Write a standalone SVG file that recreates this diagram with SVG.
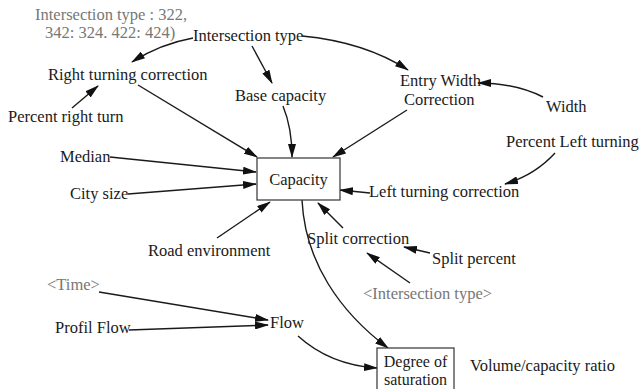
<svg xmlns="http://www.w3.org/2000/svg" width="641" height="389" viewBox="0 0 641 389">
<defs>
<marker id="ah" markerWidth="14" markerHeight="8" refX="13" refY="4" orient="auto" markerUnits="userSpaceOnUse">
<path d="M0,0 L14,4 L0,8 Z" fill="#111"/>
</marker>
</defs>
<style>
text{font-family:"Liberation Serif","Times New Roman",serif;font-size:16.5px;fill:#1a1a1a}
.g{fill:#777}
.c{fill:none;stroke:#1a1a1a;stroke-width:1.4;marker-end:url(#ah)}
.box{fill:#fff;stroke:#333;stroke-width:1.2}
.b{font-size:16px}
</style>
<rect width="641" height="389" fill="#fff"/>
<g id="connectors">
<path class="c" d="M193,38 Q160,44 132,62"/>
<path class="c" d="M252,46 L272,83"/>
<path class="c" d="M302,36 Q365,42 408,70"/>
<path class="c" d="M543,97 Q515,83 478,83"/>
<path class="c" d="M72,108 L98,86"/>
<path class="c" d="M138,85 L257,157"/>
<path class="c" d="M283,106 Q292,128 292,157"/>
<path class="c" d="M407,110 L333,157"/>
<path class="c" d="M110,157 L256,172"/>
<path class="c" d="M128,194 L256,184"/>
<path class="c" d="M217,238 L270,202"/>
<path class="c" d="M370,193 L340,190"/>
<path class="c" d="M555,153 Q535,175 505,184"/>
<path class="c" d="M343,228 L318,203"/>
<path class="c" d="M430,253 L404,247"/>
<path class="c" d="M410,283 L367,253"/>
<path class="c" d="M302,200 C305,262 340,312 388,348"/>
<path class="c" d="M99,292 L268,320"/>
<path class="c" d="M129,330 L268,325"/>
<path class="c" d="M298,336 Q330,365 377,368"/>
</g>
<g id="note"><text class="g" x="35" y="20">Intersection type : 322,</text><text class="g" x="45" y="38">342: 324. 422: 424)</text></g>
<g id="intersection-type"><text x="193" y="41">Intersection type</text></g>
<g id="right-turning-correction"><text x="48" y="80">Right turning correction</text></g>
<g id="base-capacity"><text x="235" y="101">Base capacity</text></g>
<g id="entry-width-correction"><text x="400" y="86">Entry Width</text><text x="404" y="105">Correction</text></g>
<g id="width"><text x="546" y="112">Width</text></g>
<g id="percent-right-turn"><text x="8" y="122">Percent right turn</text></g>
<g id="percent-left-turning"><text x="506" y="147">Percent Left turning</text></g>
<g id="median"><text x="60" y="162">Median</text></g>
<g id="capacity"><rect class="box" x="257" y="158" width="83" height="42"/><text x="298.5" y="185" text-anchor="middle">Capacity</text></g>
<g id="city-size"><text x="70" y="199">City size</text></g>
<g id="left-turning-correction"><text x="369" y="197">Left turning correction</text></g>
<g id="road-environment"><text x="148" y="256">Road environment</text></g>
<g id="split-correction"><text x="307" y="244">Split correction</text></g>
<g id="split-percent"><text x="432" y="264">Split percent</text></g>
<g id="intersection-type-shadow"><text class="g" x="363" y="299">&lt;Intersection type&gt;</text></g>
<g id="time"><text class="g" x="47" y="290">&lt;Time&gt;</text></g>
<g id="profil-flow"><text x="55" y="333">Profil Flow</text></g>
<g id="flow"><text x="270" y="328">Flow</text></g>
<g id="degree-of-saturation"><rect class="box" x="377" y="348" width="77" height="42"/><text class="b" x="415.5" y="367" text-anchor="middle">Degree of</text><text class="b" x="415.5" y="385" text-anchor="middle">saturation</text></g>
<g id="volume-capacity-ratio"><text x="470" y="371">Volume/capacity ratio</text></g>
</svg>
